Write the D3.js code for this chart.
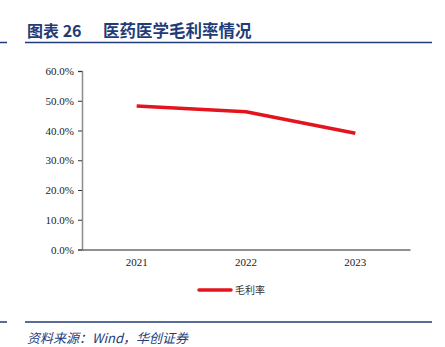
<!DOCTYPE html>
<html>
<head>
<meta charset="utf-8">
<script src="https://cdn.jsdelivr.net/npm/d3@7"></script>
<style>
  html, body { margin: 0; padding: 0; background: #fff; }
  svg { display: block; }
</style>
</head>
<body>
<svg id="chart" width="445" height="347"></svg>
<script>
// Gross margin by year
const years = ["2021", "2022", "2023"];
const grossMargin = [0.482, 0.463, 0.391];
const yTicks = [0, 0.1, 0.2, 0.3, 0.4, 0.5, 0.6];
const titleLabel = "图表 26";
const titleText = "医药医学毛利率情况";
const seriesName = "毛利率";
const sourceText = "资料来源：Wind，华创证券";

const svg = d3.select("#chart");
const navy = "#1f3c78";
const red = "#e3141e";

// Header rule and title
const titleFont = "'Noto Sans CJK SC', serif";
svg.append("text")
  .attr("x", 27).attr("y", 37)
  .attr("font-family", titleFont)
  .attr("font-size", 16).attr("font-weight", "bold")
  .attr("fill", navy)
  .text(titleLabel);
svg.append("text")
  .attr("x", 103).attr("y", 37)
  .attr("font-family", titleFont)
  .attr("font-size", 16.5).attr("font-weight", "bold")
  .attr("fill", navy)
  .text(titleText);
svg.append("line").attr("x1", 0).attr("x2", 7).attr("y1", 42.5).attr("y2", 42.5)
  .attr("stroke", navy).attr("stroke-width", 1.5);
svg.append("line").attr("x1", 25).attr("x2", 432).attr("y1", 42.5).attr("y2", 42.5)
  .attr("stroke", navy).attr("stroke-width", 1.5);

// Plot area
const plot = { left: 82, right: 410, top: 71, bottom: 249.5 };
const x = d3.scaleBand().domain(years).range([plot.left, plot.right]);
const y = d3.scaleLinear().domain([0, 0.6]).range([plot.bottom, plot.top]);

const yAxis = svg.append("g")
  .attr("transform", `translate(${plot.left},0)`)
  .call(d3.axisLeft(y).tickValues(yTicks).tickFormat(d3.format(".1%")).tickSize(4).tickPadding(4));
yAxis.select(".domain").attr("stroke", "#8c8c8c").attr("stroke-width", 1.5);
yAxis.selectAll(".tick line").attr("stroke", "#333");
yAxis.selectAll(".tick text")
  .attr("font-family", "'Liberation Serif', 'Times New Roman', serif")
  .attr("font-size", 11).attr("fill", "#222");

const xAxis = svg.append("g")
  .attr("transform", `translate(0,${plot.bottom})`)
  .call(d3.axisBottom(x).tickSize(0).tickPadding(9).tickSizeOuter(0));
xAxis.select(".domain").attr("stroke", "#222").attr("stroke-width", 1);
xAxis.selectAll(".tick text")
  .attr("font-family", "'Liberation Serif', 'Times New Roman', serif")
  .attr("font-size", 11).attr("fill", "#222");

// Series line
const line = d3.line()
  .x((d, i) => x(years[i]) + x.bandwidth() / 2)
  .y(d => y(d));
svg.append("path")
  .datum(grossMargin)
  .attr("d", line)
  .attr("fill", "none")
  .attr("stroke", red)
  .attr("stroke-width", 3.5)
  .attr("stroke-linejoin", "round");

// Legend
svg.append("line").attr("x1", 199).attr("x2", 231).attr("y1", 290).attr("y2", 290)
  .attr("stroke", red).attr("stroke-width", 3.5).attr("stroke-linecap", "round");
svg.append("text")
  .attr("x", 235).attr("y", 294)
  .attr("font-family", "'Noto Sans CJK SC', sans-serif")
  .attr("font-size", 10).attr("fill", "#333")
  .text(seriesName);

// Footer rule and source
svg.append("line").attr("x1", 0).attr("x2", 7).attr("y1", 322).attr("y2", 322)
  .attr("stroke", navy).attr("stroke-width", 1.5);
svg.append("line").attr("x1", 25).attr("x2", 432).attr("y1", 322).attr("y2", 322)
  .attr("stroke", navy).attr("stroke-width", 1.5);
svg.append("text")
  .attr("x", 27).attr("y", 343)
  .attr("font-family", "'Noto Sans CJK SC', serif")
  .attr("font-size", 13).attr("font-style", "italic")
  .attr("fill", navy)
  .text(sourceText);
</script>
</body>
</html>
